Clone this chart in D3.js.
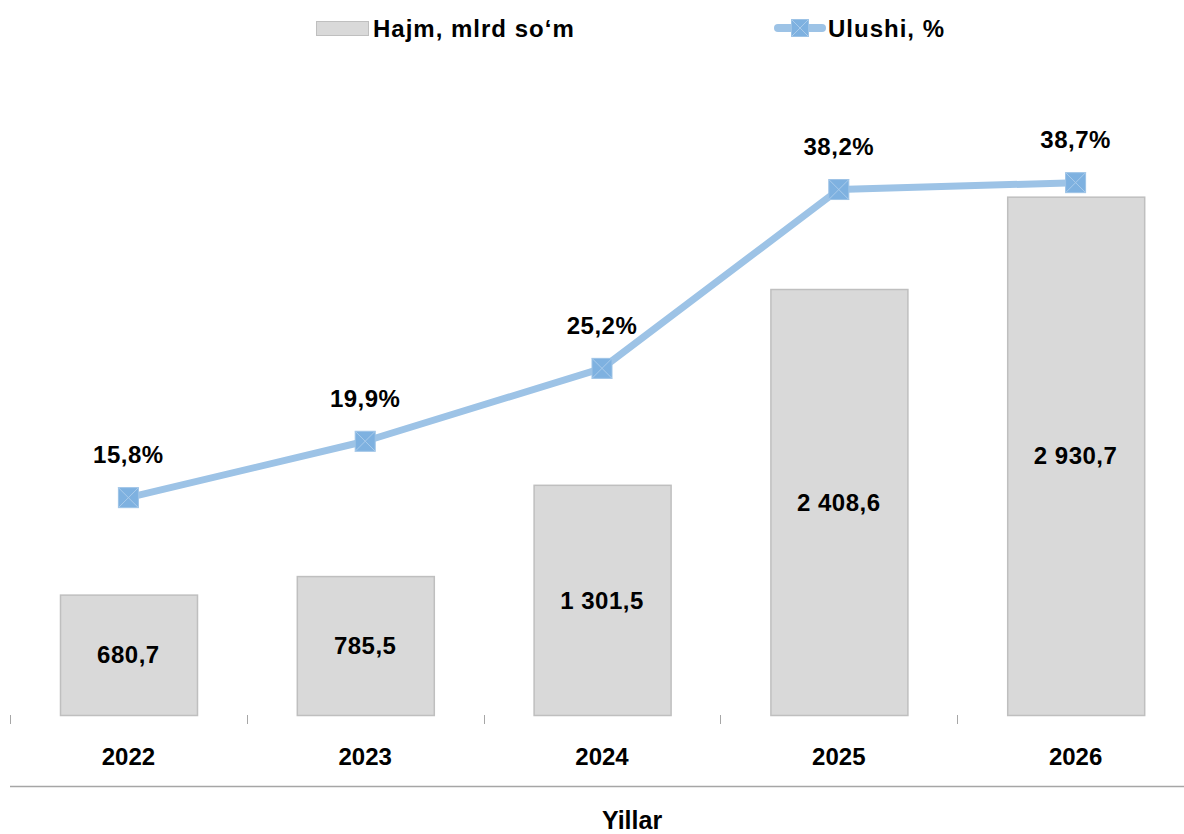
<!DOCTYPE html>
<html>
<head>
<meta charset="utf-8">
<script src="https://cdn.jsdelivr.net/npm/d3@7"></script>
<style>
  body { margin: 0; background: #fff; }
  text { font-family: "Liberation Sans", Arial, sans-serif; font-weight: bold; fill: #000; }
</style>
</head>
<body>
<svg id="chart" width="1184" height="834"></svg>
<script>
// data
var years = ['2022', '2023', '2024', '2025', '2026'];
var volume = [680.7, 785.5, 1301.5, 2408.6, 2930.7];
var share = [15.8, 19.9, 25.2, 38.2, 38.7];
var volumeLabels = ['680,7', '785,5', '1 301,5', '2 408,6', '2 930,7'];
var shareLabels = ['15,8%', '19,9%', '25,2%', '38,2%', '38,7%'];

var W = 1184, H = 834;
var plotLeft = 10, band = 236.8, base = 715, plotTop = 96;
var svg = d3.select('#chart');

var xb = d3.scaleBand().domain(years).range([plotLeft, plotLeft + band * years.length]);
var y = d3.scaleLinear().domain([0, 3500]).range([base, plotTop]);
var y2 = d3.scaleLinear().domain([0, 45]).range([base, plotTop]);
var mid = function(d){ return xb(d) + xb.bandwidth() / 2; };

// ticks between categories
var tickX = years.map(function(d){ return xb(d); }).concat([xb.range()[1]]);
svg.append('g').selectAll('line').data(tickX).enter().append('line')
  .attr('x1', function(d){ return Math.round(d) + 0.5; })
  .attr('x2', function(d){ return Math.round(d) + 0.5; })
  .attr('y1', base).attr('y2', base + 9)
  .attr('stroke', '#a6a6a6').attr('stroke-width', 1);

// bars
svg.append('g').selectAll('rect').data(years).enter().append('rect')
  .attr('x', function(d){ return xb(d) + 50.5; })
  .attr('width', 137)
  .attr('y', function(d, i){ return y(volume[i]) + 0.5; })
  .attr('height', function(d, i){ return base - y(volume[i]); })
  .attr('fill', '#d9d9d9')
  .attr('stroke', '#bfbfbf')
  .attr('stroke-width', 1.5);

// bar labels
svg.append('g').selectAll('text').data(years).enter().append('text')
  .attr('x', mid)
  .attr('y', function(d, i){ return (y(volume[i]) + base) / 2; })
  .attr('dy', '0.36em')
  .attr('text-anchor', 'middle')
  .attr('font-size', 24)
  .attr('letter-spacing', 0.5)
  .text(function(d, i){ return volumeLabels[i]; });

// line
var cx = function(d, i){ return mid(years[i]); };
var line = d3.line().x(cx).y(function(d){ return y2(d); });
svg.append('path').datum(share)
  .attr('d', line)
  .attr('fill', 'none')
  .attr('stroke', '#9dc3e6')
  .attr('stroke-width', 7)
  .attr('stroke-linejoin', 'round');

function marker(g, px, py, s){
  g.append('rect')
    .attr('x', px - s / 2).attr('y', py - s / 2)
    .attr('width', s).attr('height', s)
    .attr('fill', '#7eb1e0')
    .attr('stroke', '#9dc3e6').attr('stroke-width', 1);
  g.append('path')
    .attr('d', 'M' + (px - s / 2) + ',' + (py - s / 2) + 'L' + (px + s / 2) + ',' + (py + s / 2) +
      'M' + (px + s / 2) + ',' + (py - s / 2) + 'L' + (px - s / 2) + ',' + (py + s / 2))
    .attr('stroke', '#a9cbeb').attr('stroke-width', 1);
}
var mg = svg.append('g');
share.forEach(function(d, i){ marker(mg, cx(d, i), y2(d), 20); });

// share labels
svg.append('g').selectAll('text').data(share).enter().append('text')
  .attr('x', cx)
  .attr('y', function(d){ return y2(d) - 43; })
  .attr('dy', '0.36em')
  .attr('text-anchor', 'middle')
  .attr('font-size', 24)
  .attr('letter-spacing', 0.5)
  .text(function(d, i){ return shareLabels[i]; });

// year labels
svg.append('g').selectAll('text').data(years).enter().append('text')
  .attr('x', mid)
  .attr('y', 756)
  .attr('dy', '0.36em')
  .attr('text-anchor', 'middle')
  .attr('font-size', 24)
  .text(function(d){ return d; });

// bottom rule and axis title
svg.append('line')
  .attr('x1', 10).attr('x2', W).attr('y1', 786.5).attr('y2', 786.5)
  .attr('stroke', '#a6a6a6').attr('stroke-width', 1.5);
svg.append('text')
  .attr('x', 632).attr('y', 820).attr('dy', '0.36em')
  .attr('text-anchor', 'middle').attr('font-size', 25)
  .text('Yillar');

// legend
var lg = svg.append('g');
lg.append('rect').attr('x', 316.5).attr('y', 21.5).attr('width', 52).attr('height', 14)
  .attr('fill', '#d9d9d9').attr('stroke', '#bfbfbf').attr('stroke-width', 1);
lg.append('text').attr('x', 373).attr('y', 28).attr('dy', '0.36em')
  .attr('font-size', 24).attr('letter-spacing', 1).text('Hajm, mlrd so‘m');
lg.append('line').attr('x1', 778).attr('x2', 822).attr('y1', 28).attr('y2', 28)
  .attr('stroke', '#9dc3e6').attr('stroke-width', 8).attr('stroke-linecap', 'round');
marker(lg, 800, 28, 17);
lg.append('text').attr('x', 828).attr('y', 28).attr('dy', '0.36em')
  .attr('font-size', 24).attr('letter-spacing', 1).text('Ulushi, %');
</script>
</body>
</html>
